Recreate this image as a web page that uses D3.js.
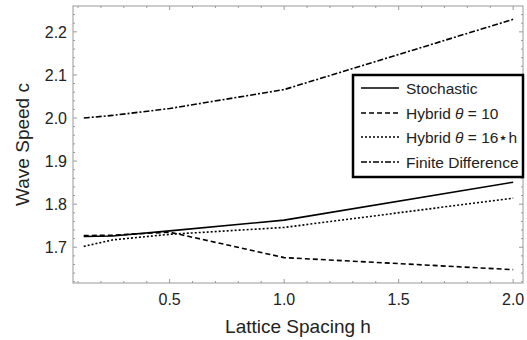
<!DOCTYPE html>
<html>
<head>
<meta charset="utf-8">
<script src="https://cdn.jsdelivr.net/npm/d3@7"></script>
<style>
  body { margin: 0; background: #fff; }
  text { font-family: "Liberation Sans", Arial, sans-serif; }
</style>
</head>
<body>
<div id="chart"></div>
<script>
// Data
const spacings = [0.125, 0.25, 0.5, 1.0, 2.0];
const stochastic = [1.725, 1.726, 1.738, 1.763, 1.851];
const hybrid10 = [1.727, 1.728, 1.735, 1.676, 1.648];
const hybrid16h = [1.702, 1.717, 1.730, 1.746, 1.814];
const finiteDiff = [2.0, 2.006, 2.022, 2.066, 2.229];

const seriesNames = ["Stochastic", "Hybrid θ = 10", "Hybrid θ = 16⋆h", "Finite Difference"];
const seriesValues = [stochastic, hybrid10, hybrid16h, finiteDiff];
const dashes = [null, "5,3", "2,2", "6,2,2,2"];

const xTicks = [0.5, 1.0, 1.5, 2.0];
const yTicks = [1.7, 1.8, 1.9, 2.0, 2.1, 2.2];

const width = 527, height = 340;
const margin = { left: 73, right: 4, top: 6, bottom: 57 };

const svg = d3.select("#chart").append("svg")
    .attr("width", width)
    .attr("height", height);

const x = d3.scaleLinear()
    .domain([0.078, 2.043])
    .range([margin.left, width - margin.right]);

const y = d3.scaleLinear()
    .domain([1.617, 2.26])
    .range([height - margin.bottom, margin.top]);

const frameColor = "#9a9a9a";

// minor ticks, mirrored on all sides
const xMinor = d3.range(1, 21).map(d => d / 10);
const yMinor = d3.range(81, 113).map(d => d / 50);

const g = svg.append("g");
const x0 = x.range()[0], x1 = x.range()[1];
const y0 = y.range()[0], y1 = y.range()[1];

xMinor.forEach(v => {
    const major = xTicks.some(t => Math.abs(t - v) < 1e-6);
    const len = major ? 4 : 2;
    g.append("line").attr("x1", x(v)).attr("x2", x(v)).attr("y1", y0).attr("y2", y0 - len)
        .attr("stroke", frameColor).attr("stroke-width", 1);
    g.append("line").attr("x1", x(v)).attr("x2", x(v)).attr("y1", y1).attr("y2", y1 + len)
        .attr("stroke", frameColor).attr("stroke-width", 1);
});
yMinor.forEach(v => {
    const major = yTicks.some(t => Math.abs(t - v) < 1e-6);
    const len = major ? 4 : 2;
    g.append("line").attr("x1", x0).attr("x2", x0 + len).attr("y1", y(v)).attr("y2", y(v))
        .attr("stroke", frameColor).attr("stroke-width", 1);
    g.append("line").attr("x1", x1).attr("x2", x1 - len).attr("y1", y(v)).attr("y2", y(v))
        .attr("stroke", frameColor).attr("stroke-width", 1);
});

// frame
svg.append("rect")
    .attr("x", x0).attr("y", y1)
    .attr("width", x1 - x0).attr("height", y0 - y1)
    .attr("fill", "none").attr("stroke", frameColor).attr("stroke-width", 1);

// tick labels
svg.selectAll("text.xtick")
    .data(xTicks)
    .enter()
    .append("text")
    .attr("class", "xtick")
    .attr("x", d => x(d))
    .attr("y", y0 + 22)
    .attr("text-anchor", "middle")
    .attr("font-size", 16)
    .attr("fill", "#222")
    .text(d => d.toFixed(1));

svg.selectAll("text.ytick")
    .data(yTicks)
    .enter()
    .append("text")
    .attr("class", "ytick")
    .attr("x", x0 - 6)
    .attr("y", d => y(d) + 6)
    .attr("text-anchor", "end")
    .attr("font-size", 16)
    .attr("fill", "#222")
    .text(d => d.toFixed(1));

// axis titles
svg.append("text")
    .attr("x", (x0 + x1) / 2)
    .attr("y", 333)
    .attr("text-anchor", "middle")
    .attr("font-size", 19)
    .attr("fill", "#222")
    .text("Lattice Spacing h");

svg.append("text")
    .attr("transform", `translate(29,${(y0 + y1) / 2}) rotate(-90)`)
    .attr("text-anchor", "middle")
    .attr("font-size", 19)
    .attr("fill", "#222")
    .text("Wave Speed c");

// lines
const line = d3.line()
    .x((d, i) => x(spacings[i]))
    .y(d => y(d));

seriesValues.forEach((vals, i) => {
    svg.append("path")
        .datum(vals)
        .attr("d", line)
        .attr("fill", "none")
        .attr("stroke", "#000")
        .attr("stroke-width", 1.6)
        .attr("stroke-dasharray", dashes[i]);
});

// legend
const legend = svg.append("g");
legend.append("rect")
    .attr("x", 353).attr("y", 75)
    .attr("width", 170).attr("height", 102)
    .attr("fill", "#fff")
    .attr("stroke", "#000")
    .attr("stroke-width", 2.5);

const rowY = [88, 113, 137, 162];
seriesNames.forEach((name, i) => {
    legend.append("line")
        .attr("x1", 361).attr("x2", 399)
        .attr("y1", rowY[i]).attr("y2", rowY[i])
        .attr("stroke", "#000")
        .attr("stroke-width", 1.3)
        .attr("stroke-dasharray", dashes[i]);
    const t = legend.append("text")
        .attr("x", 406)
        .attr("y", rowY[i] + 5.5)
        .attr("font-size", 15.5)
        .attr("fill", "#222");
    if (name.includes("θ")) {
        const parts = name.split("θ");
        t.append("tspan").text(parts[0]);
        t.append("tspan").attr("font-style", "italic").text("θ");
        t.append("tspan").text(parts[1]);
    } else {
        t.text(name);
    }
});
</script>
</body>
</html>
